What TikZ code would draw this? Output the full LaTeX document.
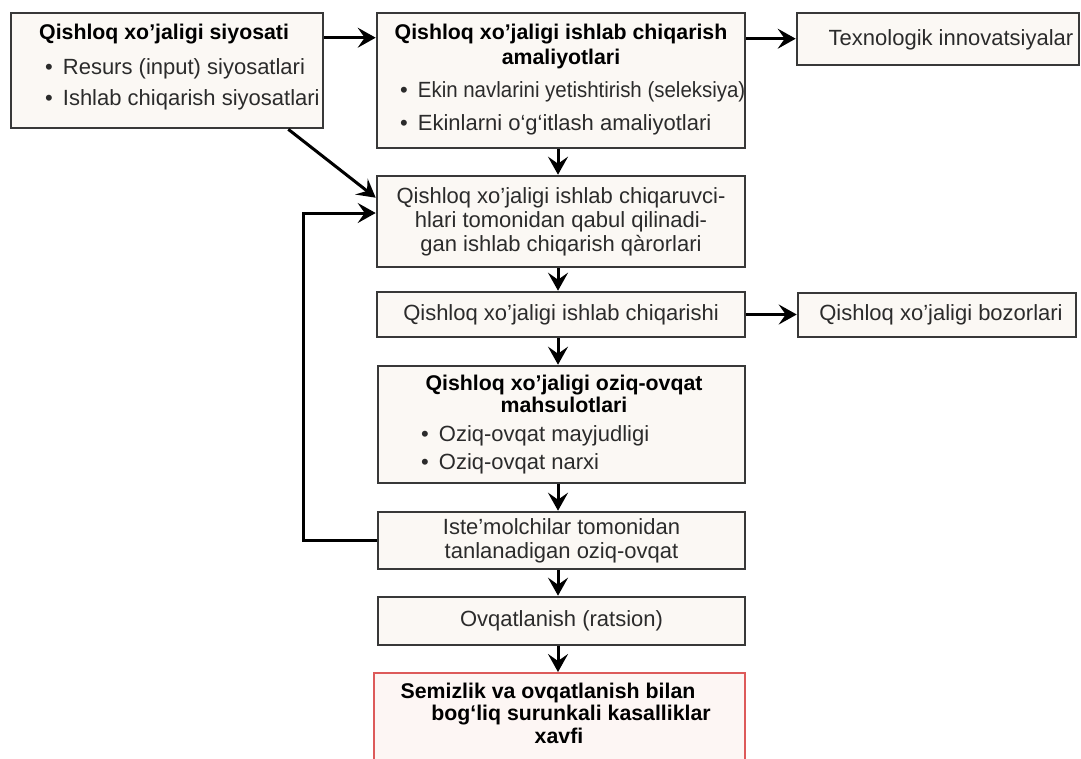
\documentclass[tikz,border=0pt]{standalone}
\usepackage{fontspec}
\setmainfont{Liberation Sans}
\usetikzlibrary{arrows.meta,calc}
\definecolor{boxfill}{HTML}{FBF8F4}
\definecolor{boxline}{HTML}{383838}
\definecolor{txtc}{HTML}{2B2B2B}
\definecolor{redline}{HTML}{DD5A5A}
\definecolor{redfill}{HTML}{FDF6F4}
\newcommand\rgfont{\fontsize{22}{24}\selectfont}
\newcommand\bdfont{\fontsize{21.3}{25}\selectfont\bfseries}
\tikzset{
  box/.style={draw=boxline, line width=2.6pt, fill=boxfill, inner sep=0pt, align=center, font=\rgfont, text=txtc},
  redbox/.style={draw=redline, line width=2pt, fill=redfill, inner sep=0pt},
  txtnode/.style={inner sep=0pt, text=txtc, font=\rgfont},
  ttlnode/.style={inner sep=0pt, text=black, font=\bdfont},
  arr/.style={draw=black, line width=3pt, -{Stealth[length=18pt 0 0,width=20pt 0 0,inset=7pt 0]}}
}
\begin{document}
\begin{tikzpicture}[x=1pt,y=-1pt]
\useasboundingbox (0,0) rectangle (1081,758);
\clip (0,0) rectangle (1081,758);
\fill[white] (0,0) rectangle (1081,758);

% boxes
\node[box, minimum width=312pt, minimum height=115pt] (A) at (167,70.5) {};
\node[box, minimum width=368pt, minimum height=135pt] (B) at (561,80.5) {};
\node[box, minimum width=282pt, minimum height=52pt] (C) at (938,39) {};
\node[box, minimum width=368pt, minimum height=91pt] (D) at (561,221.5)
  {Qishloq xo’jaligi ishlab chiqaruvci-\\hlari tomonidan qabul qilinadi-\\gan ishlab chiqarish qàrorlari};
\node[box, minimum width=368pt, minimum height=45pt] (E) at (561,314.5) {Qishloq xo’jaligi ishlab chiqarishi};
\node[box, minimum width=278pt, minimum height=44pt] (F) at (937,315) {};
\node[box, minimum width=367pt, minimum height=117pt] (G) at (561.5,424.5) {};
\node[box, minimum width=367pt, minimum height=57pt] (H) at (561.5,540.5) {Iste’molchilar tomonidan\\tanlanadigan oziq-ovqat};
\node[box, minimum width=367pt, minimum height=48pt] (I) at (561.5,621) {Ovqatlanish (ratsion)};
\node[redbox, minimum width=371pt, minimum height=117pt] (J) at (559.5,731.5) {};

% texts
\node[ttlnode, anchor=base west] (At) at (39,39) {Qishloq xo’jaligi siyosati};
\node[txtnode, anchor=base west] (A1) at (45,74) {•\hspace{10pt}Resurs (input) siyosatlari};
\node[txtnode, anchor=base west] (A2) at (45,105) {•\hspace{10pt}Ishlab chiqarish siyosatlari};

\node[ttlnode, align=center] (Bt) at (561,46) {Qishloq xo’jaligi ishlab chiqarish\\amaliyotlari};
\node[txtnode, anchor=base west] (B1) at (400,97) {•\hspace{10pt}\scalebox{0.93}[1]{Ekin navlarini yetishtirish (seleksiya)}};
\node[txtnode, anchor=base west] (B2) at (400,130) {•\hspace{10pt}Ekinlarni o‘g‘itlash amaliyotlari};

\node[txtnode] (Ct) at (951,40) {Texnologik innovatsiyalar};
\node[txtnode] (Ft) at (941,315) {Qishloq xo’jaligi bozorlari};

\node[ttlnode, align=center, font=\fontsize{21.3}{22}\selectfont\bfseries] (Gt) at (564,394) {Qishloq xo’jaligi oziq-ovqat\\mahsulotlari};
\node[txtnode, anchor=base west] (G1) at (421,441) {•\hspace{10pt}Oziq-ovqat mayjudligi};
\node[txtnode, anchor=base west] (G2) at (421,469) {•\hspace{10pt}Oziq-ovqat narxi};

\node[ttlnode, align=center, font=\fontsize{21.3}{22.5}\selectfont\bfseries] (Jt) at (559,713)
  {Semizlik va ovqatlanish bilan\hspace*{22pt}\\\hspace*{24pt}bog‘liq surunkali kasalliklar\\xavfi};

% connectors
\coordinate (ax) at (558,0);
\draw[arr] ([yshift=-26pt]A.north east) -- ([yshift=-26pt]A.north east -| B.west);
\draw[arr] ([yshift=-27pt]B.north east) -- ([yshift=-27pt]B.north east -| C.west);
\draw[arr] ([xshift=-36pt]A.south east) -- ([yshift=-23pt]D.north west);
\draw[arr] (B.south -| ax) -- (D.north -| ax);
\draw[arr] (D.south -| ax) -- (E.north -| ax);
\draw[arr] (E.east) -- (E.east -| F.west);
\draw[arr] (E.south -| ax) -- (G.north -| ax);
\draw[arr] (G.south -| ax) -- (H.north -| ax);
\draw[arr] (H.south -| ax) -- (I.north -| ax);
\draw[arr] (I.south -| ax) -- (J.north -| ax);
\draw[arr] (H.west) -- ++(-73,0) |- ([yshift=8.5pt]D.west);
\end{tikzpicture}
\end{document}
